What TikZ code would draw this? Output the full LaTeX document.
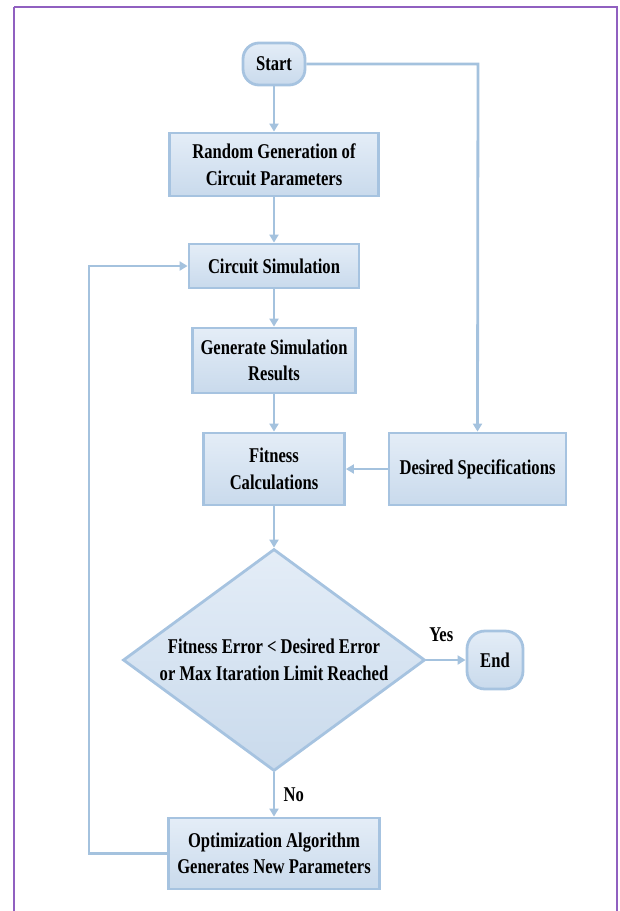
\documentclass[tikz,border=0pt]{standalone}
\usepackage{fontspec}
\setmainfont[FakeStretch=0.79]{Liberation Serif}
\usetikzlibrary{shapes.geometric,arrows.meta}
\definecolor{frameclr}{HTML}{9060C0}
\definecolor{edgeclr}{HTML}{A6C3E0}
\definecolor{linkclr}{HTML}{A4C2DE}
\definecolor{filltop}{HTML}{E4EDF7}
\definecolor{fillbot}{HTML}{C9DAEC}
\tikzset{
  x=1pt, y=-1pt,
  every node/.style={font=\fontsize{21}{26.5}\selectfont\bfseries, text=black},
  procbox/.style={draw=edgeclr, line width=2.8pt, top color=filltop, bottom color=fillbot,
    rectangle, inner sep=0pt, align=center},
  termbox/.style={procbox, rounded corners=16pt},
  decision/.style={draw=edgeclr, line width=2.8pt, top color=filltop, bottom color=fillbot,
    diamond, inner sep=0pt},
  link/.style={draw=linkclr, line width=2.8pt, -{Triangle[length=8pt,width=9pt]}},
  tag/.style={font=\fontsize{21}{26.5}\selectfont\bfseries}
}
\begin{document}
\begin{tikzpicture}
  \useasboundingbox (0,0) rectangle (619,911);
  % outer frame
  \draw[frameclr, line width=2pt] (14,7) -- (617,7) -- (617,920) (14,920) -- (14,7);

  % nodes
  \node[termbox, minimum width=62pt, minimum height=42pt] (start) at (274,64) {Start};
  \node[procbox, minimum width=209pt, minimum height=63pt] (rand) at (274,164.5) {Random Generation of\\Circuit Parameters};
  \node[procbox, minimum width=170pt, minimum height=44pt] (circ) at (274,266) {Circuit Simulation};
  \node[procbox, minimum width=163pt, minimum height=65pt] (gen) at (274,360.5) {Generate Simulation\\Results};
  \node[procbox, minimum width=141pt, minimum height=72pt] (fit) at (274,469) {Fitness\\Calculations};
  \node[procbox, minimum width=177pt, minimum height=72pt] (des) at (477.5,469) {Desired Specifications};
  \node[decision, minimum width=302pt, minimum height=222pt] (dec) at (274,660) {};
  \node[align=center] (dectxt) at (dec.center) {Fitness Error < Desired Error\\or Max Itaration Limit Reached};
  \node[termbox, rounded corners=18pt, minimum width=56pt, minimum height=58pt] (end) at (495,660) {End};
  \node[procbox, minimum width=211pt, minimum height=71pt] (opt) at (274,853.5) {Optimization Algorithm\\Generates New Parameters};

  % connectors
  \coordinate (specturn) at (478,64);
  \coordinate (loopbot) at (89,853.5);
  \coordinate (looptop) at (89,266);
  \draw[link] (start) -- (rand);
  \draw[link] (start.east) -- (specturn) -- (des.north);
  \draw[link] (rand) -- (circ);
  \draw[link] (circ) -- (gen);
  \draw[link] (gen) -- (fit);
  \draw[link] (des) -- (fit);
  \draw[link] (fit) -- (dec.north);
  \draw[link] (dec.east) -- (end) node[tag, pos=0.38, above=14pt] {Yes};
  \draw[link] (dec.south) -- (opt) node[tag, midway, right=5pt] {No};
  \draw[link] (opt.west) -- (loopbot) -- (looptop) -- (circ.west);
\end{tikzpicture}
\end{document}
